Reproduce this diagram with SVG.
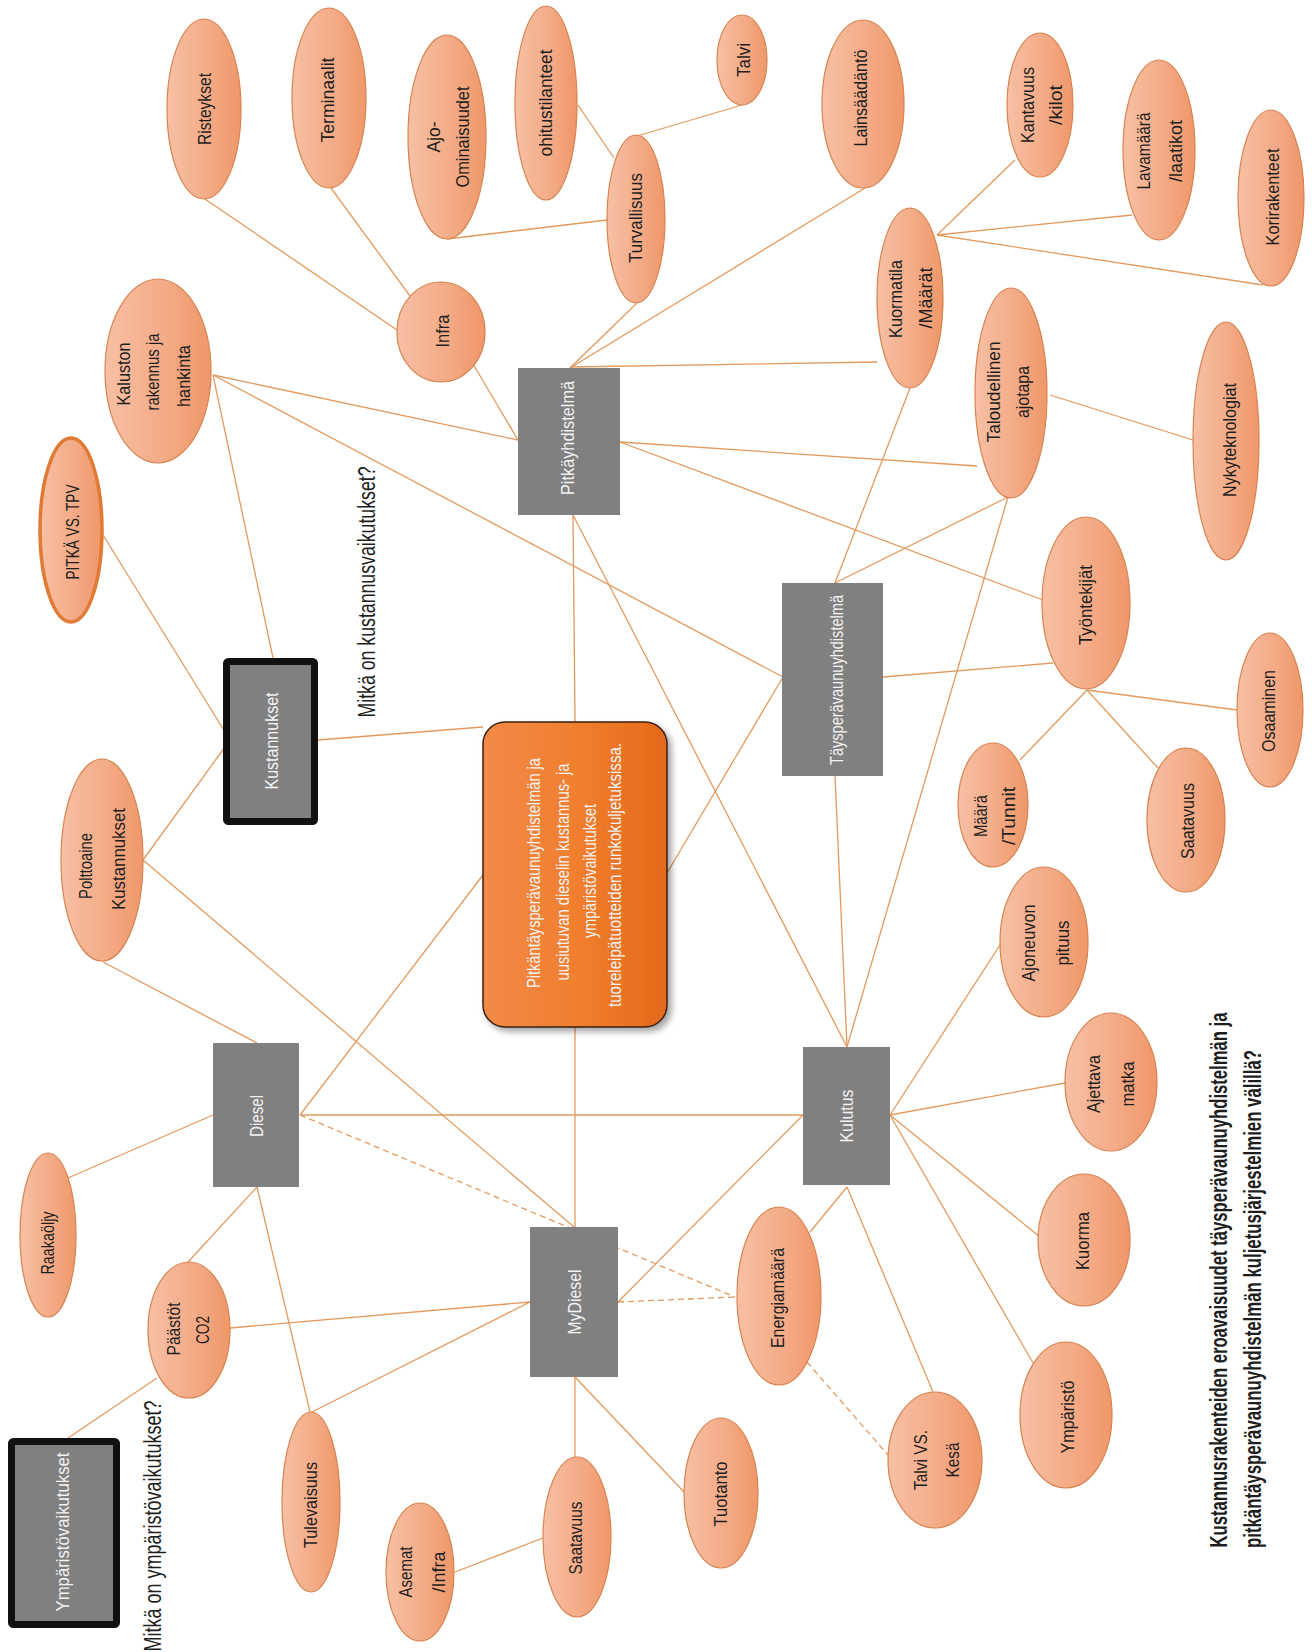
<svg xmlns="http://www.w3.org/2000/svg" width="1312" height="1652" viewBox="0 0 1312 1652">
<defs>
<linearGradient id="eg" x1="0" y1="0" x2="1" y2="0">
<stop offset="0" stop-color="#F7C0A4"/>
<stop offset="0.55" stop-color="#F4AB87"/>
<stop offset="1" stop-color="#EF9769"/>
</linearGradient>
<linearGradient id="cg" x1="0" y1="0" x2="1" y2="0">
<stop offset="0" stop-color="#F28A48"/>
<stop offset="0.5" stop-color="#F07F2E"/>
<stop offset="1" stop-color="#E5691A"/>
</linearGradient>
<filter id="sh" x="-20%" y="-20%" width="140%" height="140%">
<feDropShadow dx="4" dy="4" stdDeviation="3" flood-color="#000" flood-opacity="0.35"/>
</filter>
<style>
.e{fill:url(#eg);stroke:#D7834F;stroke-width:1.2}
.g{fill:#808080}
.k{fill:#808080;stroke:#111;stroke-width:7}
.t{font-family:"Liberation Sans",Arial,sans-serif;font-size:19px;fill:#1E1E1E;text-anchor:middle;dominant-baseline:central}
.w{font-family:"Liberation Sans",Arial,sans-serif;font-size:18px;fill:#F2F2F2;text-anchor:middle;dominant-baseline:central}
.q{font-family:"Liberation Sans",Arial,sans-serif;font-size:23px;fill:#1E1E1E;text-anchor:middle;dominant-baseline:central}
.b{font-family:"Liberation Sans",Arial,sans-serif;font-size:24px;font-weight:bold;fill:#1E1E1E;text-anchor:middle;dominant-baseline:central}
.c line{stroke:#E39A5E;stroke-width:1.3}
.c .d{stroke-dasharray:6 4}
</style>
</defs>
<rect width="1312" height="1652" fill="#FFFFFF"/>
<g class="c" id="connectors">
<line x1="205" y1="199" x2="397" y2="330"/>
<line x1="331" y1="188" x2="410" y2="296"/>
<line x1="473" y1="364" x2="518" y2="440"/>
<line x1="447" y1="239" x2="607" y2="220"/>
<line x1="578" y1="105" x2="614" y2="158"/>
<line x1="742" y1="105" x2="637" y2="136"/>
<line x1="637" y1="303" x2="570" y2="368"/>
<line x1="865" y1="188" x2="570" y2="368"/>
<line x1="570" y1="367" x2="877" y2="362"/>
<line x1="213" y1="375" x2="518" y2="440"/>
<line x1="213" y1="375" x2="783" y2="677"/>
<line x1="213" y1="375" x2="273" y2="658"/>
<line x1="620" y1="442" x2="977" y2="466"/>
<line x1="620" y1="442" x2="1043" y2="600"/>
<line x1="937" y1="235" x2="1015" y2="160"/>
<line x1="937" y1="235" x2="1132" y2="215"/>
<line x1="937" y1="235" x2="1263" y2="285"/>
<line x1="1050" y1="395" x2="1193" y2="440"/>
<line x1="910" y1="388" x2="835" y2="583"/>
<line x1="1008" y1="497" x2="835" y2="583"/>
<line x1="1008" y1="497" x2="847" y2="1047"/>
<line x1="883" y1="677" x2="1053" y2="663"/>
<line x1="1087" y1="690" x2="1020" y2="760"/>
<line x1="1087" y1="690" x2="1158" y2="768"/>
<line x1="1087" y1="690" x2="1237" y2="710"/>
<line x1="573" y1="515" x2="575" y2="722"/>
<line x1="573" y1="515" x2="847" y2="1047"/>
<line x1="835" y1="776" x2="847" y2="1047"/>
<line x1="783" y1="677" x2="667" y2="873"/>
<line x1="318" y1="740" x2="483" y2="727"/>
<line x1="103" y1="535" x2="230" y2="740"/>
<line x1="143" y1="860" x2="230" y2="740"/>
<line x1="143" y1="860" x2="574" y2="1227"/>
<line x1="103" y1="962" x2="257" y2="1043"/>
<line x1="300" y1="1115" x2="483" y2="875"/>
<line x1="300" y1="1115" x2="803" y2="1115"/>
<line class="d" x1="300" y1="1115" x2="735" y2="1297"/>
<line x1="575" y1="1027" x2="575" y2="1227"/>
<line x1="803" y1="1115" x2="618" y2="1302"/>
<line class="d" x1="618" y1="1302" x2="735" y2="1297"/>
<line x1="847" y1="1187" x2="810" y2="1232"/>
<line x1="847" y1="1187" x2="933" y2="1392"/>
<line x1="890" y1="1115" x2="1000" y2="945"/>
<line x1="890" y1="1115" x2="1065" y2="1083"/>
<line x1="890" y1="1115" x2="1040" y2="1237"/>
<line x1="890" y1="1115" x2="1033" y2="1363"/>
<line class="d" x1="807" y1="1362" x2="888" y2="1455"/>
<line x1="213" y1="1115" x2="68" y2="1178"/>
<line x1="257" y1="1187" x2="188" y2="1262"/>
<line x1="257" y1="1187" x2="310" y2="1412"/>
<line x1="230" y1="1328" x2="530" y2="1302"/>
<line x1="312" y1="1412" x2="530" y2="1302"/>
<line x1="157" y1="1378" x2="68" y2="1438"/>
<line x1="575" y1="1377" x2="575" y2="1458"/>
<line x1="575" y1="1377" x2="685" y2="1493"/>
<line x1="543" y1="1538" x2="455" y2="1572"/>
</g>

<g id="risteykset"><ellipse class="e" cx="204" cy="109" rx="37" ry="90"/><text class="t" x="204" y="109" transform="rotate(-90 204 109)" textLength="72" lengthAdjust="spacingAndGlyphs">Risteykset</text></g>
<g id="terminaalit"><ellipse class="e" cx="329" cy="98" rx="37" ry="90"/><text class="t" x="327" y="100" transform="rotate(-90 327 100)" textLength="85" lengthAdjust="spacingAndGlyphs">Terminaalit</text></g>
<g id="ajo"><ellipse class="e" cx="447" cy="137" rx="39" ry="102"/><text class="t" x="433" y="137" transform="rotate(-90 433 137)" textLength="31" lengthAdjust="spacingAndGlyphs">Ajo-</text><text class="t" x="462" y="137" transform="rotate(-90 462 137)" textLength="101" lengthAdjust="spacingAndGlyphs">Ominaisuudet</text></g>
<g id="ohitus"><ellipse class="e" cx="546" cy="103" rx="31" ry="97"/><text class="t" x="545" y="103" transform="rotate(-90 545 103)" textLength="107" lengthAdjust="spacingAndGlyphs">ohitustilanteet</text></g>
<g id="talvi"><ellipse class="e" cx="742" cy="60" rx="25" ry="45"/><text class="t" x="743" y="60" transform="rotate(-90 743 60)" textLength="34" lengthAdjust="spacingAndGlyphs">Talvi</text></g>
<g id="turvallisuus"><ellipse class="e" cx="636" cy="219" rx="29" ry="84"/><text class="t" x="635" y="218" transform="rotate(-90 635 218)" textLength="90" lengthAdjust="spacingAndGlyphs">Turvallisuus</text></g>
<g id="lainsaadanto"><ellipse class="e" cx="863" cy="104" rx="41" ry="84"/><text class="t" x="860" y="98" transform="rotate(-90 860 98)" textLength="97" lengthAdjust="spacingAndGlyphs">Lainsäädäntö</text></g>
<g id="infra"><ellipse class="e" cx="441" cy="332" rx="44" ry="50"/><text class="t" x="442" y="331" transform="rotate(-90 442 331)" textLength="33" lengthAdjust="spacingAndGlyphs">Infra</text></g>
<g id="kaluston"><ellipse class="e" cx="158" cy="371" rx="53" ry="92"/><text class="t" x="123" y="374" transform="rotate(-90 123 374)" textLength="63" lengthAdjust="spacingAndGlyphs">Kaluston</text><text class="t" x="152" y="372" transform="rotate(-90 152 372)" textLength="77" lengthAdjust="spacingAndGlyphs">rakennus ja</text><text class="t" x="183" y="376" transform="rotate(-90 183 376)" textLength="62" lengthAdjust="spacingAndGlyphs">hankinta</text></g>
<g id="kantavuus"><ellipse class="e" cx="1040" cy="105" rx="33" ry="72"/><text class="t" x="1027" y="105" transform="rotate(-90 1027 105)" textLength="76" lengthAdjust="spacingAndGlyphs">Kantavuus</text><text class="t" x="1055" y="105" transform="rotate(-90 1055 105)" textLength="40" lengthAdjust="spacingAndGlyphs">/kilot</text></g>
<g id="lavamaara"><ellipse class="e" cx="1159" cy="150" rx="36" ry="90"/><text class="t" x="1143" y="151" transform="rotate(-90 1143 151)" textLength="77" lengthAdjust="spacingAndGlyphs">Lavamäärä</text><text class="t" x="1175" y="151" transform="rotate(-90 1175 151)" textLength="62" lengthAdjust="spacingAndGlyphs">/laatikot</text></g>
<g id="korirakenteet"><ellipse class="e" cx="1271" cy="198" rx="33" ry="88"/><text class="t" x="1272" y="197" transform="rotate(-90 1272 197)" textLength="97" lengthAdjust="spacingAndGlyphs">Korirakenteet</text></g>
<g id="kuormatila"><ellipse class="e" cx="910" cy="298" rx="33" ry="90"/><text class="t" x="895" y="299" transform="rotate(-90 895 299)" textLength="78" lengthAdjust="spacingAndGlyphs">Kuormatila</text><text class="t" x="925" y="298" transform="rotate(-90 925 298)" textLength="61" lengthAdjust="spacingAndGlyphs">/Määrät</text></g>
<g id="taloudellinen"><ellipse class="e" cx="1011" cy="393" rx="36" ry="105"/><text class="t" x="993" y="392" transform="rotate(-90 993 392)" textLength="101" lengthAdjust="spacingAndGlyphs">Taloudellinen</text><text class="t" x="1022" y="392" transform="rotate(-90 1022 392)" textLength="52" lengthAdjust="spacingAndGlyphs">ajotapa</text></g>
<g id="nykyteknologiat"><ellipse class="e" cx="1226" cy="441" rx="33" ry="119"/><text class="t" x="1229" y="440" transform="rotate(-90 1229 440)" textLength="114" lengthAdjust="spacingAndGlyphs">Nykyteknologiat</text></g>
<g id="tyontekijat"><ellipse class="e" cx="1086" cy="603" rx="44" ry="86"/><text class="t" x="1085" y="605" transform="rotate(-90 1085 605)" textLength="80" lengthAdjust="spacingAndGlyphs">Työntekijät</text></g>
<g id="osaaminen"><ellipse class="e" cx="1270" cy="710" rx="33" ry="77"/><text class="t" x="1268" y="711" transform="rotate(-90 1268 711)" textLength="82" lengthAdjust="spacingAndGlyphs">Osaaminen</text></g>
<g id="maara"><ellipse class="e" cx="993" cy="805" rx="35" ry="62"/><text class="t" x="980" y="816" transform="rotate(-90 980 816)" textLength="42" lengthAdjust="spacingAndGlyphs">Määrä</text><text class="t" x="1008" y="816" transform="rotate(-90 1008 816)" textLength="58" lengthAdjust="spacingAndGlyphs">/Tunnit</text></g>
<g id="saatavuus-r"><ellipse class="e" cx="1186" cy="820" rx="39" ry="72"/><text class="t" x="1187" y="821" transform="rotate(-90 1187 821)" textLength="76" lengthAdjust="spacingAndGlyphs">Saatavuus</text></g>
<g id="ajoneuvon"><ellipse class="e" cx="1044" cy="942" rx="44" ry="75"/><text class="t" x="1028" y="943" transform="rotate(-90 1028 943)" textLength="77" lengthAdjust="spacingAndGlyphs">Ajoneuvon</text><text class="t" x="1062" y="943" transform="rotate(-90 1062 943)" textLength="45" lengthAdjust="spacingAndGlyphs">pituus</text></g>
<g id="ajettava"><ellipse class="e" cx="1111" cy="1082" rx="46" ry="69"/><text class="t" x="1093" y="1084" transform="rotate(-90 1093 1084)" textLength="58" lengthAdjust="spacingAndGlyphs">Ajettava</text><text class="t" x="1127" y="1084" transform="rotate(-90 1127 1084)" textLength="45" lengthAdjust="spacingAndGlyphs">matka</text></g>
<g id="kuorma"><ellipse class="e" cx="1084" cy="1240" rx="46" ry="66"/><text class="t" x="1082" y="1241" transform="rotate(-90 1082 1241)" textLength="58" lengthAdjust="spacingAndGlyphs">Kuorma</text></g>
<g id="ymparisto"><ellipse class="e" cx="1066" cy="1415" rx="46" ry="73"/><text class="t" x="1067" y="1417" transform="rotate(-90 1067 1417)" textLength="73" lengthAdjust="spacingAndGlyphs">Ympäristö</text></g>
<g id="talvivskesa"><ellipse class="e" cx="935" cy="1460" rx="47" ry="68"/><text class="t" x="920" y="1460" transform="rotate(-90 920 1460)" textLength="60" lengthAdjust="spacingAndGlyphs">Talvi VS.</text><text class="t" x="952" y="1460" transform="rotate(-90 952 1460)" textLength="35" lengthAdjust="spacingAndGlyphs">Kesä</text></g>
<g id="energiamaara"><ellipse class="e" cx="779" cy="1296" rx="42" ry="89"/><text class="t" x="777" y="1298" transform="rotate(-90 777 1298)" textLength="100" lengthAdjust="spacingAndGlyphs">Energiamäärä</text></g>
<g id="saatavuus-b"><ellipse class="e" cx="577" cy="1537" rx="34" ry="80"/><text class="t" x="575" y="1538" transform="rotate(-90 575 1538)" textLength="73" lengthAdjust="spacingAndGlyphs">Saatavuus</text></g>
<g id="tuotanto"><ellipse class="e" cx="721" cy="1493" rx="37" ry="75"/><text class="t" x="720" y="1494" transform="rotate(-90 720 1494)" textLength="65" lengthAdjust="spacingAndGlyphs">Tuotanto</text></g>
<g id="asemat"><ellipse class="e" cx="420" cy="1572" rx="34" ry="69"/><text class="t" x="405" y="1572" transform="rotate(-90 405 1572)" textLength="51" lengthAdjust="spacingAndGlyphs">Asemat</text><text class="t" x="438" y="1572" transform="rotate(-90 438 1572)" textLength="41" lengthAdjust="spacingAndGlyphs">/Infra</text></g>
<g id="tulevaisuus"><ellipse class="e" cx="311" cy="1502" rx="29" ry="90"/><text class="t" x="310" y="1505" transform="rotate(-90 310 1505)" textLength="86" lengthAdjust="spacingAndGlyphs">Tulevaisuus</text></g>
<g id="paastot"><ellipse class="e" cx="189" cy="1330" rx="41" ry="68"/><text class="t" x="173" y="1329" transform="rotate(-90 173 1329)" textLength="53" lengthAdjust="spacingAndGlyphs">Päästöt</text><text class="t" x="202" y="1330" transform="rotate(-90 202 1330)" textLength="28" lengthAdjust="spacingAndGlyphs">CO2</text></g>
<g id="raakaoljy"><ellipse class="e" cx="48" cy="1235" rx="28" ry="82"/><text class="t" x="47" y="1243" transform="rotate(-90 47 1243)" textLength="63" lengthAdjust="spacingAndGlyphs">Raakaöljy</text></g>
<g id="polttoaine"><ellipse class="e" cx="102" cy="860" rx="41" ry="101"/><text class="t" x="85" y="866" transform="rotate(-90 85 866)" textLength="66" lengthAdjust="spacingAndGlyphs">Polttoaine</text><text class="t" x="118" y="859" transform="rotate(-90 118 859)" textLength="102" lengthAdjust="spacingAndGlyphs">Kustannukset</text></g>
<g id="pitkavstpv"><ellipse cx="71" cy="530" rx="31" ry="92" fill="url(#eg)" stroke="#E07A35" stroke-width="3.5"/><text class="t" x="72" y="532" transform="rotate(-90 72 532)" textLength="95" lengthAdjust="spacingAndGlyphs">PITKÄ VS. TPV</text></g>

<g id="pitkayhdistelma"><rect class="g" x="518" y="368" width="102" height="147"/><text class="w" x="568" y="438" transform="rotate(-90 568 438)" textLength="114" lengthAdjust="spacingAndGlyphs">Pitkäyhdistelmä</text></g>
<g id="taysperavaunuyhdistelma"><rect class="g" x="782" y="583" width="101" height="193"/><text class="w" x="837" y="680" transform="rotate(-90 837 680)" textLength="170" lengthAdjust="spacingAndGlyphs">Täysperävaunuyhdistelmä</text></g>
<g id="kustannukset"><rect class="k" x="226.5" y="661.5" width="88" height="160" rx="2"/><text class="w" x="272" y="741" transform="rotate(-90 272 741)" textLength="97" lengthAdjust="spacingAndGlyphs">Kustannukset</text></g>
<g id="diesel"><rect class="g" x="213" y="1043" width="86" height="144"/><text class="w" x="257" y="1116" transform="rotate(-90 257 1116)" textLength="42" lengthAdjust="spacingAndGlyphs">Diesel</text></g>
<g id="mydiesel"><rect class="g" x="530" y="1227" width="88" height="150"/><text class="w" x="575" y="1302" transform="rotate(-90 575 1302)" textLength="65" lengthAdjust="spacingAndGlyphs">MyDiesel</text></g>
<g id="kulutus"><rect class="g" x="803" y="1047" width="87" height="138"/><text class="w" x="847" y="1116" transform="rotate(-90 847 1116)" textLength="53" lengthAdjust="spacingAndGlyphs">Kulutus</text></g>
<g id="ymparistovaikutukset"><rect class="k" x="11.5" y="1441.5" width="105" height="183" rx="2"/><text class="w" x="63" y="1532" transform="rotate(-90 63 1532)" textLength="159" lengthAdjust="spacingAndGlyphs">Ympäristövaikutukset</text></g>

<g id="center"><rect x="483" y="722" width="184" height="305" rx="22" fill="url(#cg)" stroke="#3A2212" stroke-width="1.5" filter="url(#sh)"/>
<text class="w" x="534" y="873" transform="rotate(-90 534 873)" textLength="230" lengthAdjust="spacingAndGlyphs">Pitkäntäysperävaunuyhdistelmän ja</text>
<text class="w" x="563" y="872" transform="rotate(-90 563 872)" textLength="217" lengthAdjust="spacingAndGlyphs">uusiutuvan dieselin kustannus- ja</text>
<text class="w" x="590" y="871" transform="rotate(-90 590 871)" textLength="134" lengthAdjust="spacingAndGlyphs">ympäristövaikutukset</text>
<text class="w" x="615" y="875" transform="rotate(-90 615 875)" textLength="264" lengthAdjust="spacingAndGlyphs">tuoreleipätuotteiden runkokuljetuksissa.</text>
</g>

<g id="labels">
<text class="q" x="367" y="592" transform="rotate(-90 367 592)" textLength="251" lengthAdjust="spacingAndGlyphs">Mitkä on kustannusvaikutukset?</text>
<text class="q" x="153" y="1526" transform="rotate(-90 153 1526)" textLength="251" lengthAdjust="spacingAndGlyphs">Mitkä on ympäristövaikutukset?</text>
<text class="b" x="1218" y="1280" transform="rotate(-90 1218 1280)" textLength="535" lengthAdjust="spacingAndGlyphs">Kustannusrakenteiden eroavaisuudet täysperävaunuyhdistelmän ja</text>
<text class="b" x="1252" y="1299" transform="rotate(-90 1252 1299)" textLength="498" lengthAdjust="spacingAndGlyphs">pitkäntäysperävaunuyhdistelmän kuljetusjärjestelmien välillä?</text>
</g>
</svg>
